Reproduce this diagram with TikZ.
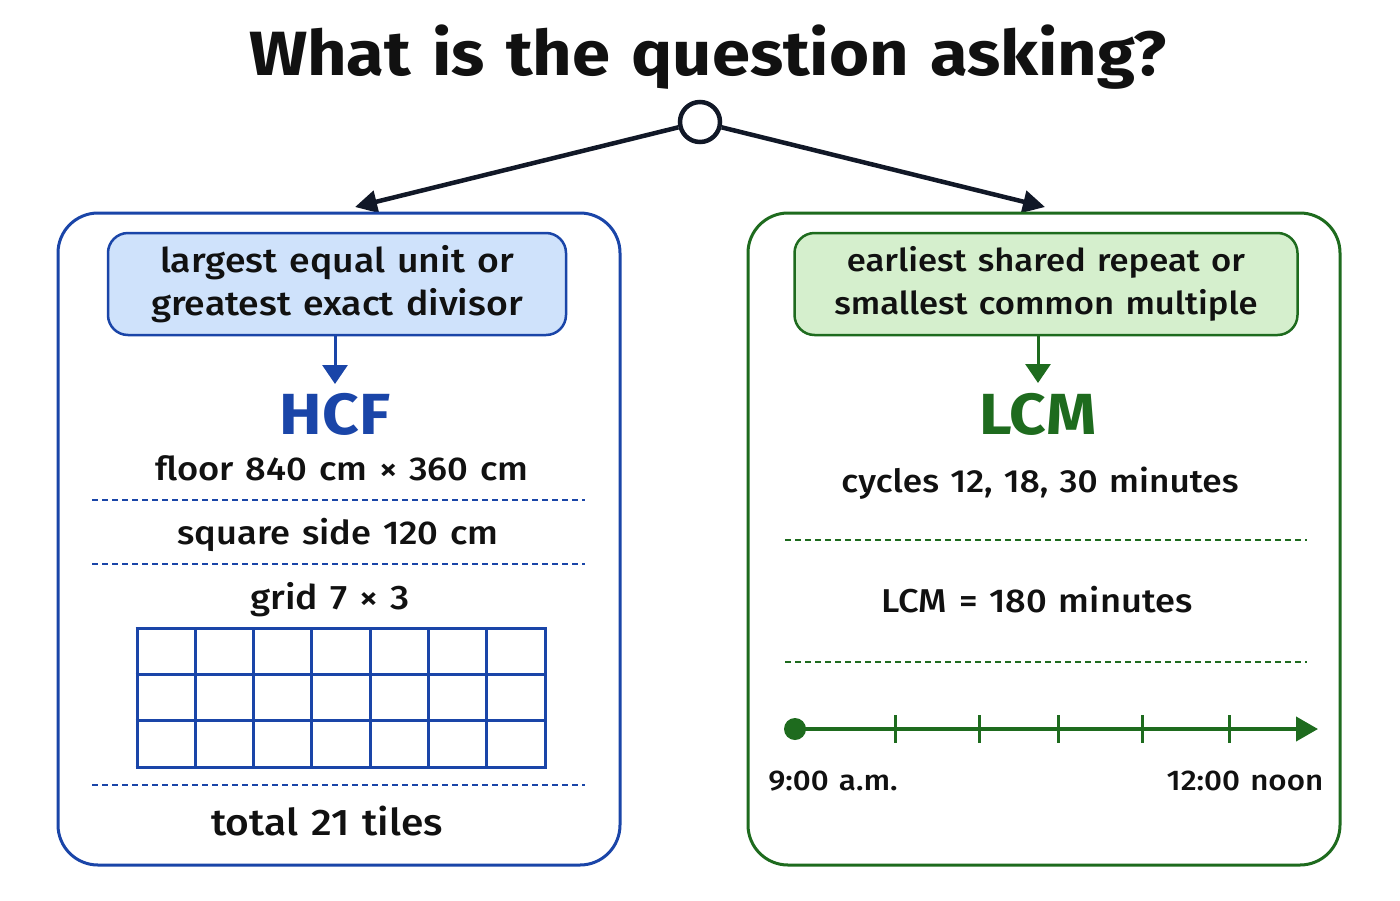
\documentclass[tikz,border=0pt]{standalone}
\usepackage{fontspec}
\setmainfont{Fira Sans}[UprightFont={* Medium}, BoldFont={* Bold}, FakeStretch=1.1, WordSpace=1.3]
\usetikzlibrary{arrows.meta}
\definecolor{hblue}{HTML}{1A45A8}
\definecolor{hbluefill}{HTML}{CFE2FB}
\definecolor{lgreen}{HTML}{1E6B1E}
\definecolor{lgreenfill}{HTML}{D5EFCD}
\definecolor{navy}{HTML}{111827}
\definecolor{ink}{HTML}{111111}
\newcommand{\fsz}[1]{\fontsize{#1}{#1}\selectfont}
\tikzset{
  x=1pt, y=-1pt,
  panel/.style={draw, line width=3pt, rounded corners=40pt, minimum width=#1, inner sep=0pt},
  tagbox/.style={draw, line width=2.5pt, rounded corners=20pt, minimum height=102pt, align=center, text=ink, inner sep=0pt},
  bodytext/.style={anchor=base, text=ink, inner sep=0pt},
  bigtag/.style={anchor=base, font=\bfseries\fsz{58}, inner sep=0pt},
  sep/.style={dashed, dash pattern=on 6pt off 4pt, line width=1.6pt},
  mainarrow/.style={line width=4.5pt, draw=navy, -{Triangle[length=22pt,width=22pt]}},
  downarrow/.style={line width=3pt, -{Triangle[length=19pt,width=25pt]}},
}
\begin{document}
\begin{tikzpicture}
\useasboundingbox (0,0) rectangle (1400,900);
\fill[white] (0,0) rectangle (1400,900);

% title
\node[anchor=base, inner sep=0pt, font=\bfseries\fsz{62.5}, text=ink] (title) at (708,75) {What is the question asking?};

% hub
\node[circle, draw=navy, line width=4.5pt, fill=white, minimum size=40pt, inner sep=0pt] (hub) at (700,122) {};
\coordinate (lefttip) at (355,207);
\coordinate (righttip) at (1045,207);
\draw[mainarrow] (hub) -- (lefttip);
\draw[mainarrow] (hub) -- (righttip);

% panels
\node[panel=562pt, minimum height=652pt, draw=hblue] (leftpanel) at (339,539) {};
\node[panel=592pt, minimum height=652pt, draw=lgreen] (rightpanel) at (1044,539) {};

% left content
\node[tagbox, draw=hblue, fill=hbluefill, minimum width=458pt, font=\fontsize{34}{43}\selectfont] (lefttag) at (337,284) {largest equal unit or\\greatest exact divisor};
\node[bigtag, text=hblue] (hcf) at (335,434) {HCF};
\draw[downarrow, draw=hblue, fill=hblue] (lefttag.south -| 335,0) -- (335,384) coordinate (hcfin);
\node[bodytext, font=\fsz{33}] (floor) at (342,480) {floor 840 cm × 360 cm};
\draw[sep, draw=hblue] (92,500) -- (585,500);
\node[bodytext, font=\fsz{33}] (square) at (338,544) {square side 120 cm};
\draw[sep, draw=hblue] (92,564) -- (585,564);
\node[bodytext, font=\fsz{34}] (gridlabel) at (330,609) {grid 7 × 3};
\foreach \i in {0,...,7} \draw[hblue, line width=3pt] ({137+\i*408/7},628) -- ({137+\i*408/7},767);
\foreach \j in {0,...,3} \draw[hblue, line width=3pt] (135.5,{628+\j*139/3}) -- (546.5,{628+\j*139/3});
\draw[sep, draw=hblue] (92,785) -- (585,785);
\node[bodytext, font=\fsz{37}] (total) at (327,835) {total 21 tiles};

% right content
\node[tagbox, draw=lgreen, fill=lgreenfill, minimum width=503pt, font=\fontsize{31.5}{43}\selectfont] (righttag) at (1046,284) {earliest shared repeat or\\smallest common multiple};
\node[bigtag, text=lgreen] (lcm) at (1038,434) {LCM};
\draw[downarrow, draw=lgreen, fill=lgreen] (righttag.south -| 1038,0) -- (1038,383) coordinate (lcmin);
\node[bodytext, font=\fsz{32}] (cycles) at (1040,492) {cycles 12, 18, 30 minutes};
\draw[sep, draw=lgreen] (785,540) -- (1307,540);
\node[bodytext, font=\fsz{33}] (lcmval) at (1037,612) {LCM = 180 minutes};
\draw[sep, draw=lgreen] (785,662) -- (1307,662);

% timeline
\node[circle, fill=lgreen, minimum size=22pt, inner sep=0pt] (tstart) at (795,729) {};
\coordinate (tend) at (1318,729);
\draw[lgreen, line width=4pt, -{Triangle[length=22pt,width=24pt]}] (tstart.center) -- (tend);
\foreach \t in {895,979,1058,1142,1229} \draw[lgreen, line width=3pt] (\t,715) -- (\t,743);
\node[bodytext, font=\fsz{28.5}] (startlabel) at (833,790) {9:00 a.m.};
\node[bodytext, font=\fsz{28.5}] (endlabel) at (1245,790) {12:00 noon};
\end{tikzpicture}
\end{document}
